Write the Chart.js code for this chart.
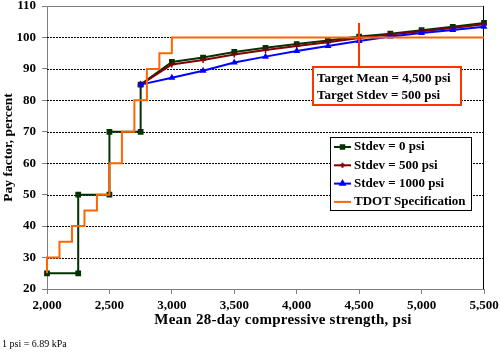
<!DOCTYPE html>
<html>
<head>
<meta charset="utf-8">
<script src="https://cdn.jsdelivr.net/npm/chart.js@4/dist/chart.umd.min.js"></script>
<style>
  html, body { margin: 0; padding: 0; background: #fff; }
  #chart { display: block; }
</style>
</head>
<body>
<canvas id="chart" width="500" height="353"></canvas>
<script>
// x ticks (psi) and y ticks (percent)
const strengthTicks = [2000, 2500, 3000, 3500, 4000, 4500, 5000, 5500];
const payTicks = [20, 30, 40, 50, 60, 70, 80, 90, 100, 110];

// Stdev = 0 psi (steps, then curve)
const stdev0Strength = [2000, 2250, 2250, 2500, 2500, 2750, 2750, 3000, 3250, 3500, 3750, 4000, 4250, 4500, 4750, 5000, 5250, 5500];
const stdev0Pay = [25, 25, 50, 50, 70, 70, 85, 92.2, 93.6, 95.4, 96.7, 97.9, 99.0, 100.3, 101.2, 102.3, 103.4, 104.6];

// Stdev = 500 / 1000 psi
const curveStrength = [2750, 3000, 3250, 3500, 3750, 4000, 4250, 4500, 4750, 5000, 5250, 5500];
const stdev500Pay = [85, 91.4, 92.8, 94.6, 96.0, 97.3, 98.5, 99.8, 100.9, 102.0, 103.0, 104.2];
const stdev1000Pay = [85, 87.2, 89.4, 92.0, 93.9, 95.7, 97.3, 98.9, 100.3, 101.4, 102.4, 103.4];

// TDOT specification (step function)
const tdotStrength = [2000, 2000, 2100, 2200, 2300, 2400, 2500, 2600, 2700, 2800, 2900, 3000, 5500];
const tdotPay = [25, 30, 35, 40, 45, 50, 60, 70, 80, 90, 95, 100, 100];

const seriesNames = ['Stdev = 0 psi', 'Stdev = 500 psi', 'Stdev = 1000 psi', 'TDOT Specification'];
const seriesColors = ['#003300', '#800000', '#0000FF', '#FF6600'];
const seriesMarkers = ['rect', 'cross', 'triangle', false];

const targetMean = 4500;
const targetStdev = 500;

const xTitle = 'Mean 28-day compressive strength, psi';
const yTitle = 'Pay factor, percent';
const footnote = '1 psi = 6.89 kPa';

const serif = '"Liberation Serif", "Times New Roman", serif';
const fmt = (v) => v.toLocaleString('en-US');
const pts = (xs, ys) => xs.map((x, i) => ({ x: x, y: ys[i] }));

const overlay = {
  id: 'overlay',
  beforeDatasetsDraw(chart) {
    const { ctx, chartArea: a } = chart;
    const ys = chart.scales.y;
    ctx.save();
    // dotted horizontal gridlines
    ctx.strokeStyle = '#000';
    ctx.lineWidth = 1;
    ctx.setLineDash([2, 1]);
    payTicks.slice(1, -1).forEach((v) => {
      const py = Math.round(ys.getPixelForValue(v)) + 0.5;
      ctx.beginPath();
      ctx.moveTo(a.left, py);
      ctx.lineTo(a.right, py);
      ctx.stroke();
    });
    ctx.setLineDash([]);
    // plot frame
    ctx.strokeStyle = '#808080';
    ctx.beginPath();
    ctx.moveTo(a.left, a.top + 0.5);
    ctx.lineTo(a.right, a.top + 0.5);
    ctx.stroke();
    ctx.strokeStyle = '#000';
    ctx.beginPath();
    ctx.moveTo(a.right - 0.5, a.top);
    ctx.lineTo(a.right - 0.5, a.bottom);
    ctx.stroke();
    ctx.restore();
  },
  afterDatasetsDraw(chart) {
    const { ctx } = chart;
    const xs = chart.scales.x;
    ctx.save();

    // target mean marker line + text box
    const lx = Math.round(xs.getPixelForValue(targetMean));
    ctx.strokeStyle = '#FF3300';
    ctx.lineWidth = 2;
    ctx.beginPath();
    ctx.moveTo(lx, 23);
    ctx.lineTo(lx, 67);
    ctx.stroke();
    ctx.fillStyle = '#fff';
    ctx.fillRect(313, 67, 148, 38);
    ctx.strokeRect(313, 67, 148, 38);
    ctx.fillStyle = '#000';
    ctx.font = 'bold 13px ' + serif;
    ctx.textBaseline = 'middle';
    ctx.textAlign = 'left';
    ctx.fillText('Target Mean = ' + fmt(targetMean) + ' psi', 317, 79);
    ctx.fillText('Target Stdev = ' + fmt(targetStdev) + ' psi', 317, 96);

    // legend
    ctx.fillStyle = '#fff';
    ctx.fillRect(330.5, 137.5, 141, 73);
    ctx.strokeStyle = '#000';
    ctx.lineWidth = 1;
    ctx.strokeRect(330.5, 137.5, 141, 73);
    seriesNames.forEach((name, i) => {
      const yy = 147 + i * 18.3;
      ctx.strokeStyle = seriesColors[i];
      ctx.lineWidth = 2;
      ctx.beginPath();
      ctx.moveTo(334, yy);
      ctx.lineTo(351, yy);
      ctx.stroke();
      if (seriesMarkers[i]) {
        ctx.fillStyle = seriesColors[i];
        Chart.helpers.drawPoint(ctx, {
          pointStyle: seriesMarkers[i], radius: 2.5, borderWidth: 1.5
        }, 342.5, yy);
      }
      ctx.fillStyle = '#000';
      ctx.fillText(name, 354, yy);
    });

    // x axis title (sits right of centre in the original)
    ctx.font = 'bold 15px ' + serif;
    ctx.letterSpacing = '0.25px';
    ctx.textAlign = 'center';
    ctx.fillText(xTitle, 283, 320);
    ctx.letterSpacing = '0px';

    // footnote
    ctx.textAlign = 'left';
    ctx.font = '10px ' + serif;
    ctx.fillText(footnote, 2, 344);
    ctx.restore();
  }
};

function lineSet(i, data, order) {
  return {
    label: seriesNames[i],
    data: data,
    borderColor: seriesColors[i],
    backgroundColor: seriesColors[i],
    borderWidth: 2,
    pointStyle: seriesMarkers[i],
    pointRadius: seriesMarkers[i] ? (i === 2 ? 2.5 : 3) : 0,
    pointBorderWidth: 1.5,
    tension: 0,
    stepped: seriesMarkers[i] ? false : 'before',
    clip: false,
    order: order
  };
}

new Chart(document.getElementById('chart'), {
  type: 'line',
  data: {
    datasets: [
      lineSet(0, pts(stdev0Strength, stdev0Pay), 3),
      lineSet(1, pts(curveStrength, stdev500Pay), 2),
      lineSet(2, pts(curveStrength, stdev1000Pay), 1),
      lineSet(3, pts(tdotStrength, tdotPay), 0)
    ]
  },
  options: {
    responsive: false,
    animation: false,
    devicePixelRatio: 1,
    layout: { padding: { top: 6, right: 16, left: 0, bottom: 0 } },
    plugins: { legend: { display: false }, tooltip: { enabled: false } },
    scales: {
      x: {
        type: 'linear',
        min: 2000,
        max: 5500,
        afterBuildTicks: (s) => { s.ticks = strengthTicks.map((v) => ({ value: v })); },
        afterFit: (s) => { s.height = 64; s.paddingLeft = 0; s.paddingRight = 0; },
        ticks: {
          callback: (v) => fmt(v),
          font: { family: serif, size: 13, weight: 'bold' },
          color: '#000',
          padding: 4,
          maxRotation: 0,
          autoSkip: false
        },
        grid: { drawOnChartArea: false, tickLength: 5, tickColor: '#808080' },
        border: { color: '#808080', width: 1 }
      },
      y: {
        min: 20,
        max: 110,
        afterBuildTicks: (s) => { s.ticks = payTicks.map((v) => ({ value: v })); },
        afterFit: (s) => { s.width = 47; s.paddingTop = 0; s.paddingBottom = 0; },
        ticks: {
          font: { family: serif, size: 13, weight: 'bold' },
          color: '#000',
          padding: 6
        },
        grid: { drawOnChartArea: false, tickLength: 5, tickColor: '#808080' },
        border: { color: '#808080', width: 1 },
        title: {
          display: true,
          text: yTitle,
          font: { family: serif, size: 13.5, weight: 'bold' },
          color: '#000',
          padding: { top: 0, bottom: 0 }
        }
      }
    }
  },
  plugins: [overlay]
});
</script>
</body>
</html>
